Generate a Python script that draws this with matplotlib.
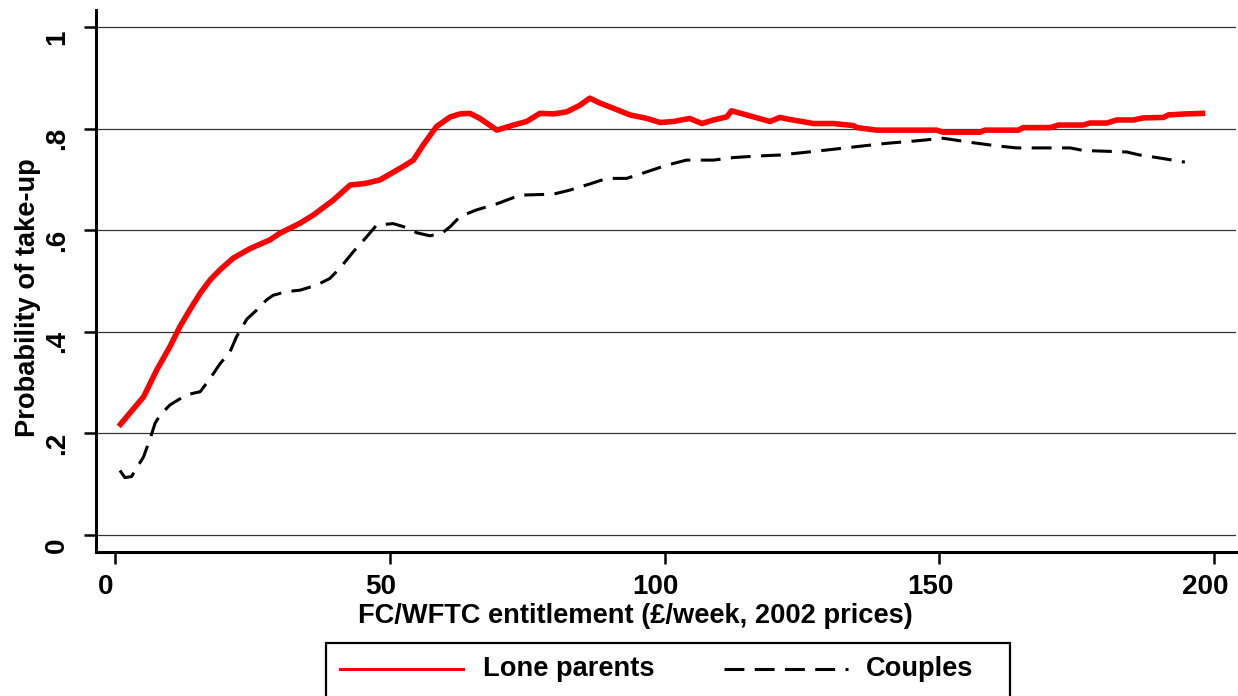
"""
Take-up of FC/WFTC by entitlement, lone parents vs couples.
"""
import matplotlib
matplotlib.use("Agg")
import matplotlib.pyplot as plt
import matplotlib.transforms as mtransforms
from matplotlib.lines import Line2D
from matplotlib.patches import Rectangle

# Lone parents (red solid line), entitlement in £/week and take-up probability
lone_x = [1.0, 2.7, 5.2, 7.6, 10.0, 11.8, 13.6, 15.5, 17.3, 19.1, 21.5, 24.6,
          28.2, 30.0, 33.7, 36.1, 39.7, 42.8, 45.5, 48.2, 51.9, 54.3, 56.1,
          58.5, 61.0, 62.8, 64.6, 66.4, 69.5, 72.5, 74.9, 77.3, 79.8, 82.2,
          84.6, 86.4, 88.3, 90.7, 93.7, 96.8, 99.2, 101.6, 104.6, 106.8,
          108.9, 111.3, 112.2, 114.9, 119.2, 121.0, 122.8, 125.0, 127.1,
          130.7, 134.4, 135.0, 138.6, 149.5, 150.7, 157.4, 158.3, 164.4,
          165.3, 170.2, 171.7, 176.2, 177.4, 180.5, 182.3, 185.3, 187.1,
          190.8, 191.7, 195.0, 197.9]
lone_y = [0.218, 0.240, 0.272, 0.325, 0.371, 0.410, 0.443, 0.476, 0.502,
          0.522, 0.545, 0.564, 0.581, 0.594, 0.614, 0.630, 0.659, 0.689,
          0.692, 0.699, 0.722, 0.738, 0.768, 0.804, 0.823, 0.829, 0.830,
          0.820, 0.797, 0.807, 0.814, 0.830, 0.829, 0.833, 0.846, 0.860,
          0.850, 0.840, 0.827, 0.820, 0.812, 0.814, 0.820, 0.810, 0.817,
          0.823, 0.835, 0.827, 0.814, 0.822, 0.818, 0.814, 0.810, 0.810,
          0.806, 0.802, 0.797, 0.797, 0.793, 0.793, 0.797, 0.797, 0.802,
          0.802, 0.807, 0.807, 0.811, 0.811, 0.817, 0.817, 0.821, 0.822,
          0.827, 0.829, 0.830]

# Couples (black dashed line)
couple_x = [0.9, 1.8, 3.0, 3.9, 5.2, 6.4, 7.3, 8.2, 10.0, 13.0, 15.5, 17.3,
            19.1, 20.9, 22.1, 24.0, 25.8, 27.6, 28.8, 31.2, 33.7, 36.7, 39.1,
            40.9, 43.4, 45.8, 47.6, 50.6, 52.5, 54.9, 57.3, 59.5, 61.0, 62.8,
            65.8, 69.5, 73.7, 79.8, 82.8, 86.4, 89.5, 93.1, 96.8, 100.4,
            104.0, 108.9, 112.5, 116.8, 121.0, 127.1, 131.3, 136.2, 140.4,
            145.9, 150.7, 152.6, 155.6, 160.5, 164.1, 168.9, 173.8, 176.2,
            184.1, 186.5, 189.6, 194.7]
couple_y = [0.127, 0.113, 0.115, 0.131, 0.154, 0.190, 0.220, 0.236, 0.256,
            0.276, 0.282, 0.308, 0.337, 0.360, 0.390, 0.425, 0.443, 0.463,
            0.472, 0.479, 0.482, 0.492, 0.505, 0.525, 0.558, 0.587, 0.610,
            0.613, 0.607, 0.595, 0.589, 0.594, 0.607, 0.627, 0.640, 0.652,
            0.669, 0.671, 0.679, 0.691, 0.702, 0.702, 0.715, 0.728, 0.738,
            0.738, 0.743, 0.746, 0.748, 0.755, 0.760, 0.766, 0.771, 0.776,
            0.781, 0.778, 0.773, 0.766, 0.762, 0.762, 0.762, 0.757, 0.754,
            0.748, 0.743, 0.734]

x_ticks = [0, 50, 100, 150, 200]
y_ticks = [0, 0.2, 0.4, 0.6, 0.8, 1.0]
y_tick_labels = ["0", ".2", ".4", ".6", ".8", "1"]

W, H = 1238, 696
TEXT_SIZE = 19.6
TICK_SIZE = 20


def fig_box(px_left, px_top, px_right, px_bottom):
    """Pixel box (from top-left) to figure fraction rect."""
    return [px_left / W, 1 - px_bottom / H,
            (px_right - px_left) / W, (px_bottom - px_top) / H]


def main():
    plt.rcParams['font.family'] = ['Liberation Sans', 'DejaVu Sans']
    plt.rcParams['font.weight'] = 'bold'

    fig = plt.figure(figsize=(W / 100, H / 100), dpi=100)
    ax = fig.add_axes(fig_box(96, 10, 1236, 552))

    ax.plot(lone_x, lone_y, color='#ff0000', lw=4.0, solid_joinstyle='round',
            zorder=3)
    ax.plot(couple_x, couple_y, color='black', lw=2.2, dashes=(6.5, 3.4),
            dash_capstyle='butt', zorder=3)

    ax.set_xlim(-3.46, 204.0)
    ax.set_ylim(-0.0335, 1.0335)

    # Stata-like axes: only left and bottom, thick
    for side in ['top', 'right']:
        ax.spines[side].set_visible(False)
    for side in ['left', 'bottom']:
        ax.spines[side].set_linewidth(2.2)

    ax.set_xticks(x_ticks)
    ax.set_yticks(y_ticks)
    ax.set_yticklabels(y_tick_labels)
    ax.tick_params(axis='both', length=8.6, width=1.8, labelsize=TICK_SIZE,
                   color='black')
    ax.tick_params(axis='x', pad=7)
    ax.tick_params(axis='y', pad=10)
    ax.grid(axis='y', color='#333333', lw=0.9)
    ax.set_axisbelow(True)

    # Tick labels sit a little off their ticks in the original
    shift_x = mtransforms.ScaledTranslation(-9 / 100, 0, fig.dpi_scale_trans)
    for lab in ax.get_xticklabels():
        lab.set_transform(lab.get_transform() + shift_x)
        lab.set_fontweight('bold')
    shift_y = mtransforms.ScaledTranslation(0, -10 / 100, fig.dpi_scale_trans)
    for lab in ax.get_yticklabels():
        lab.set_rotation(90)
        lab.set_va('center')
        lab.set_transform(lab.get_transform() + shift_y)
        lab.set_fontweight('bold')

    ax.set_xlabel('FC/WFTC entitlement (£/week, 2002 prices)',
                  fontsize=TEXT_SIZE, fontweight='bold')
    ax.xaxis.set_label_coords(0.473, -0.118)
    ax.xaxis.label.set_va('center')
    ax.set_ylabel('Probability of take-up', fontsize=TEXT_SIZE,
                  fontweight='bold')
    ax.yaxis.set_label_coords(-0.0595, 0.47)
    ax.yaxis.label.set_va('center')

    # Legend box, cut off by the bottom edge like the original
    fig.add_artist(Rectangle((326 / W, -0.05), (1010 - 326) / W,
                             1 - 643 / H + 0.05, transform=fig.transFigure,
                             fill=False, lw=1.6, edgecolor='black'))
    ly = 1 - 669 / H
    fig.add_artist(Line2D([340 / W, 463 / W], [ly, ly], color='#ff0000',
                          lw=2.2, transform=fig.transFigure))
    fig.text(483 / W, ly, 'Lone parents', fontsize=TEXT_SIZE,
             fontweight='bold', va='center', ha='left')
    fig.add_artist(Line2D([724 / W, 848 / W], [ly, ly], color='black', lw=2.2,
                          dashes=(6.5, 3.4), dash_capstyle='butt',
                          transform=fig.transFigure))
    fig.text(866 / W, ly, 'Couples', fontsize=TEXT_SIZE, fontweight='bold',
             va='center', ha='left')

    fig.savefig('out.png', dpi=100)
    plt.close(fig)


if __name__ == "__main__":
    main()
